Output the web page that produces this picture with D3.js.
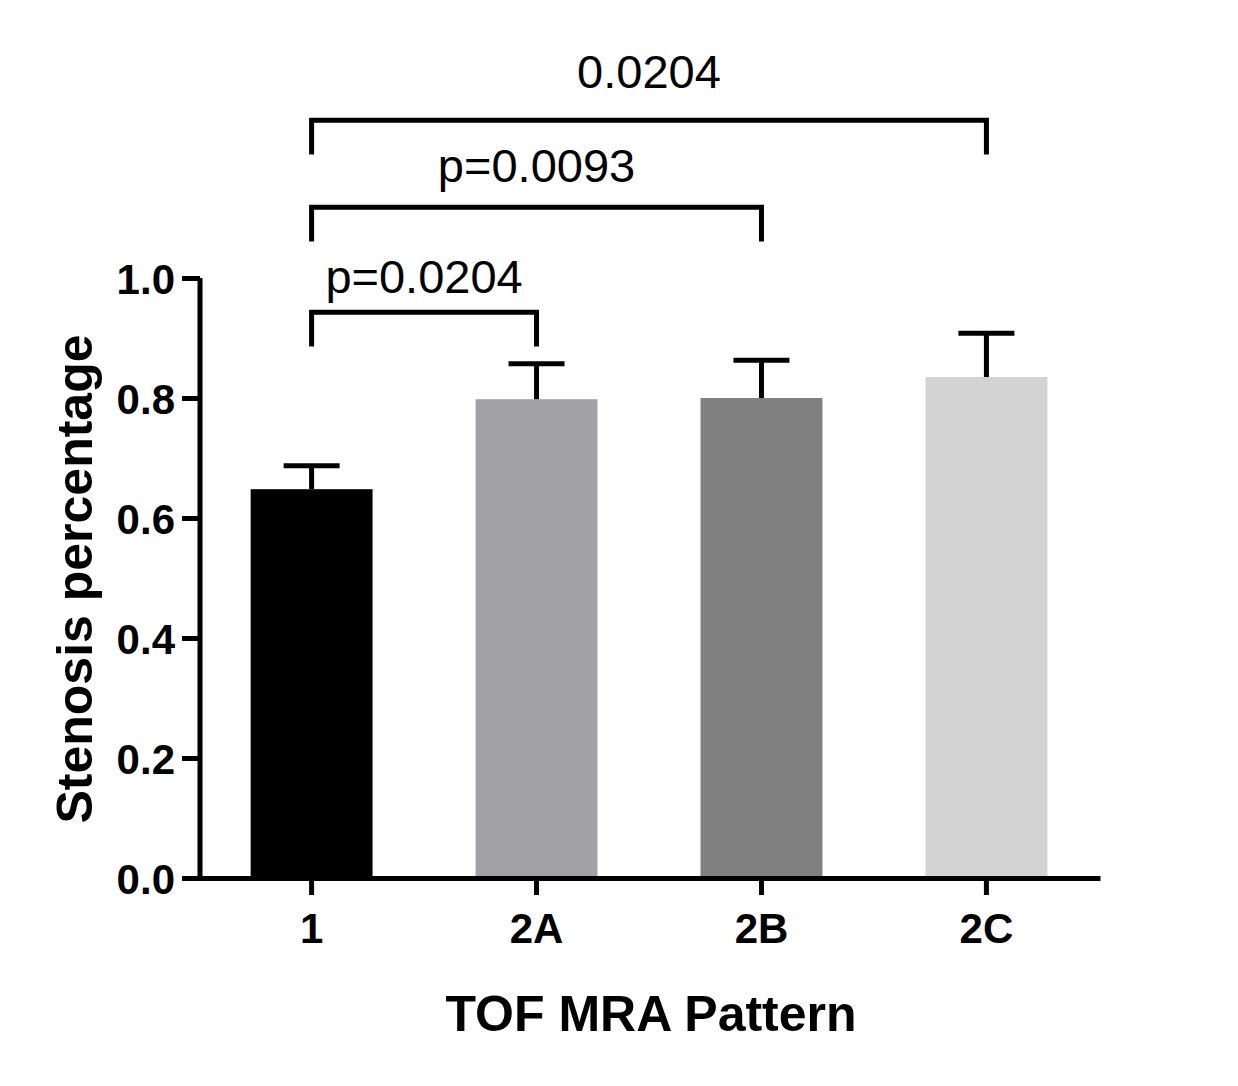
<!DOCTYPE html>
<html>
<head>
<meta charset="utf-8">
<script src="https://cdn.jsdelivr.net/npm/d3@7"></script>
<style>
  body { margin: 0; background: #fff; }
  svg { display: block; font-family: "Liberation Sans", Arial, sans-serif; }
</style>
</head>
<body>
<div id="chart"></div>
<script>
// Data
var categories = ["1", "2A", "2B", "2C"];
var means = [0.648, 0.798, 0.800, 0.835];
var errors = [0.039, 0.059, 0.063, 0.073];
var barColors = ["#000000", "#a2a1a6", "#808080", "#d3d3d3"];
var yTicks = [0.0, 0.2, 0.4, 0.6, 0.8, 1.0];

// Significance brackets
var bracketFrom = ["1", "1", "1"];
var bracketTo = ["2A", "2B", "2C"];
var bracketLevel = [0.943, 1.118, 1.263];
var bracketLabelLevel = [0.975, 1.16, 1.317];
var bracketLabels = ["p=0.0204", "p=0.0093", "0.0204"];

var width = 1238, height = 1086;
var lw = 5; // line width of axes, error bars and brackets

var svg = d3.select("#chart").append("svg")
	.attr("width", width)
	.attr("height", height);

// Scales
var x = d3.scaleBand().domain(categories).range([198, 1100])
	.paddingInner(0.458).paddingOuter(0.234);
var y = d3.scaleLinear().domain([0, 1]).range([878, 278]);

// Bars
svg.selectAll(".bar")
	.data(categories)
	.enter()
	.append("rect")
	.attr("class", "bar")
	.attr("x", function(d) { return x(d); })
	.attr("width", x.bandwidth())
	.attr("y", function(d, i) { return y(means[i]); })
	.attr("height", function(d, i) { return y(0) - y(means[i]); })
	.style("fill", function(d, i) { return barColors[i]; });

// Error bars (upper only)
var capW = 56;
var errG = svg.selectAll(".err")
	.data(categories)
	.enter()
	.append("g")
	.attr("class", "err")
	.attr("stroke", "#000")
	.attr("stroke-width", lw);
errG.append("line")
	.attr("x1", function(d) { return x(d) + x.bandwidth() / 2; })
	.attr("x2", function(d) { return x(d) + x.bandwidth() / 2; })
	.attr("y1", function(d, i) { return y(means[i]); })
	.attr("y2", function(d, i) { return y(means[i] + errors[i]); });
errG.append("line")
	.attr("x1", function(d) { return x(d) + x.bandwidth() / 2 - capW / 2; })
	.attr("x2", function(d) { return x(d) + x.bandwidth() / 2 + capW / 2; })
	.attr("y1", function(d, i) { return y(means[i] + errors[i]); })
	.attr("y2", function(d, i) { return y(means[i] + errors[i]); });

// Y axis
var yAxis = d3.axisLeft(y)
	.tickValues(yTicks)
	.tickFormat(d3.format(".1f"))
	.tickSize(18)
	.tickSizeOuter(0)
	.tickPadding(7);
var gy = svg.append("g")
	.attr("transform", "translate(200,0)")
	.call(yAxis);

// X axis
var xAxis = d3.axisBottom(x)
	.tickSize(17)
	.tickSizeOuter(0)
	.tickPadding(18);
var gx = svg.append("g")
	.attr("transform", "translate(0,878)")
	.call(xAxis);

[gx, gy].forEach(function(g) {
	g.selectAll("path, line").attr("stroke", "#000").attr("stroke-width", lw);
	g.selectAll("text")
		.attr("fill", "#000")
		.attr("font-family", "'Liberation Sans', Arial, sans-serif")
		.attr("font-weight", "bold")
		.attr("font-size", 42);
});
gy.select(".domain").attr("d", "M0," + y(0) + "V" + y(1));
gy.selectAll(".tick text").attr("dy", "0.36em");
gx.selectAll(".tick text").attr("dy", "0.71em");

// Axis titles
svg.append("text")
	.attr("x", 651)
	.attr("y", 1031)
	.attr("text-anchor", "middle")
	.attr("font-weight", "bold")
	.attr("font-size", 50)
	.text("TOF MRA Pattern");

svg.append("text")
	.attr("transform", "translate(92,579) rotate(-90)")
	.attr("text-anchor", "middle")
	.attr("font-weight", "bold")
	.attr("font-size", 50)
	.text("Stenosis percentage");

// Brackets with p values
var drop = 0.057;
bracketLabels.forEach(function(label, i) {
	var x1 = x(bracketFrom[i]) + x.bandwidth() / 2;
	var x2 = x(bracketTo[i]) + x.bandwidth() / 2;
	var top = y(bracketLevel[i]);
	var bottom = y(bracketLevel[i] - drop);
	svg.append("path")
		.attr("d", "M" + x1 + "," + bottom + "V" + top + "H" + x2 + "V" + bottom)
		.attr("fill", "none")
		.attr("stroke", "#000")
		.attr("stroke-width", lw);
	svg.append("text")
		.attr("x", (x1 + x2) / 2)
		.attr("y", y(bracketLabelLevel[i]))
		.attr("text-anchor", "middle")
		.attr("font-size", 47)
		.text(label);
});
</script>
</body>
</html>
